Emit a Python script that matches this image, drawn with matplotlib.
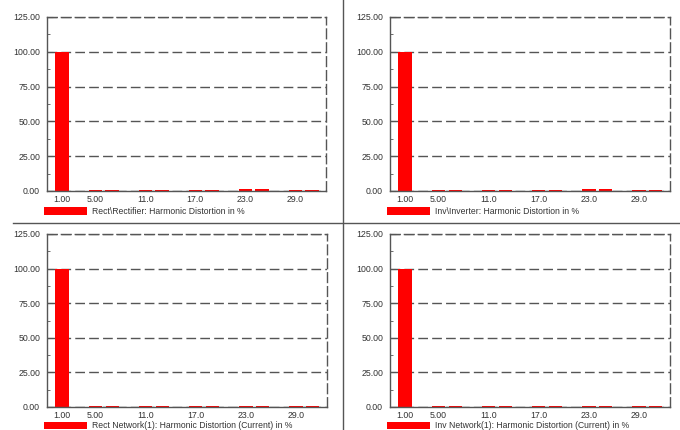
import matplotlib.pyplot as plt
from matplotlib.patches import Patch
from matplotlib.lines import Line2D
from matplotlib.ticker import MultipleLocator

# harmonic orders and distortion in %
harmonics = [1, 5, 7, 11, 13, 17, 19, 23, 25, 29, 31]
rect_rectifier = [100.0, 0.5, 0.5, 0.5, 0.5, 0.5, 0.5, 1.2, 1.2, 0.5, 0.5]
inv_inverter = [100.0, 0.5, 0.5, 0.5, 0.5, 0.5, 0.5, 1.2, 1.2, 0.5, 0.5]
rect_network = [100.0, 0.5, 0.5, 0.5, 0.5, 0.5, 0.5, 0.5, 0.5, 0.5, 0.5]
inv_network = [100.0, 0.5, 0.5, 0.5, 0.5, 0.5, 0.5, 0.5, 0.5, 0.5, 0.5]

xtick_pos = [1, 5, 11, 17, 23, 29]
xtick_labels = ['1.00', '5.00', '11.0', '17.0', '23.0', '29.0']
ytick_pos = [0, 25, 50, 75, 100, 125]
ytick_labels = ['0.00', '25.00', '50.00', '75.00', '100.00', '125.00']

panels = [
    (rect_rectifier, 'Rect\\Rectifier: Harmonic Distortion in %'),
    (inv_inverter, 'Inv\\Inverter: Harmonic Distortion in %'),
    (rect_network, 'Rect Network(1): Harmonic Distortion (Current) in %'),
    (inv_network, 'Inv Network(1): Harmonic Distortion (Current) in %'),
]

W, H = 680, 430
# axes boxes in pixels: left, top, right, bottom
boxes = [(47, 17, 326, 191), (390, 17, 670, 191),
         (47, 234, 327, 407), (390, 234, 670, 407)]
legend_y = [-0.092, -0.092, -0.082, -0.082]

fig = plt.figure(figsize=(6.8, 4.3), dpi=100)
fig.patch.set_facecolor('white')
plt.rcParams['font.family'] = ['Liberation Sans', 'DejaVu Sans']

grey = '#555555'
for (vals, label), (l, t, r, b), ly in zip(panels, boxes, legend_y):
    ax = fig.add_axes([l / W, 1 - b / H, (r - l) / W, (b - t) / H])
    ax.bar(harmonics, vals, width=1.6, color='#ff0000', edgecolor='none')
    ax.set_xlim(-0.8, 32.7)
    ax.set_ylim(0, 125)
    ax.set_xticks(xtick_pos)
    ax.set_xticklabels(xtick_labels)
    ax.set_yticks(ytick_pos)
    ax.set_yticklabels(ytick_labels)
    ax.yaxis.set_minor_locator(MultipleLocator(12.5))
    ax.tick_params(axis='x', length=0, pad=3, labelsize=6.3, colors='#333333')
    ax.tick_params(axis='y', which='major', direction='in', length=4,
                   color=grey, pad=5, labelsize=6.3, labelcolor='#333333')
    ax.tick_params(axis='y', which='minor', direction='in', length=2, color=grey)
    ax.grid(axis='y', linestyle=(0, (7, 3)), color=grey, linewidth=1.0)
    for s in ['top', 'right']:
        ax.spines[s].set_linestyle((0, (7, 3)))
        ax.spines[s].set_color(grey)
        ax.spines[s].set_linewidth(1.0)
    for s in ['left', 'bottom']:
        ax.spines[s].set_color(grey)
        ax.spines[s].set_linewidth(1.0)
    ax.set_axisbelow(True)
    handle = Patch(facecolor='#ff0000', edgecolor='none')
    ax.legend(handles=[handle], labels=[label], loc='upper left',
              bbox_to_anchor=(-0.01, ly), frameon=False, fontsize=6.2,
              handlelength=5.0, handleheight=0.9, handletextpad=0.5,
              borderaxespad=0, borderpad=0, labelcolor='#333333')

# panel separators
fig.add_artist(Line2D([343 / W, 343 / W], [0, 1], color=grey, linewidth=1.0))
fig.add_artist(Line2D([13 / W, 1], [1 - 222.5 / H, 1 - 222.5 / H], color=grey, linewidth=1.0))

fig.savefig('out.png', dpi=100)
